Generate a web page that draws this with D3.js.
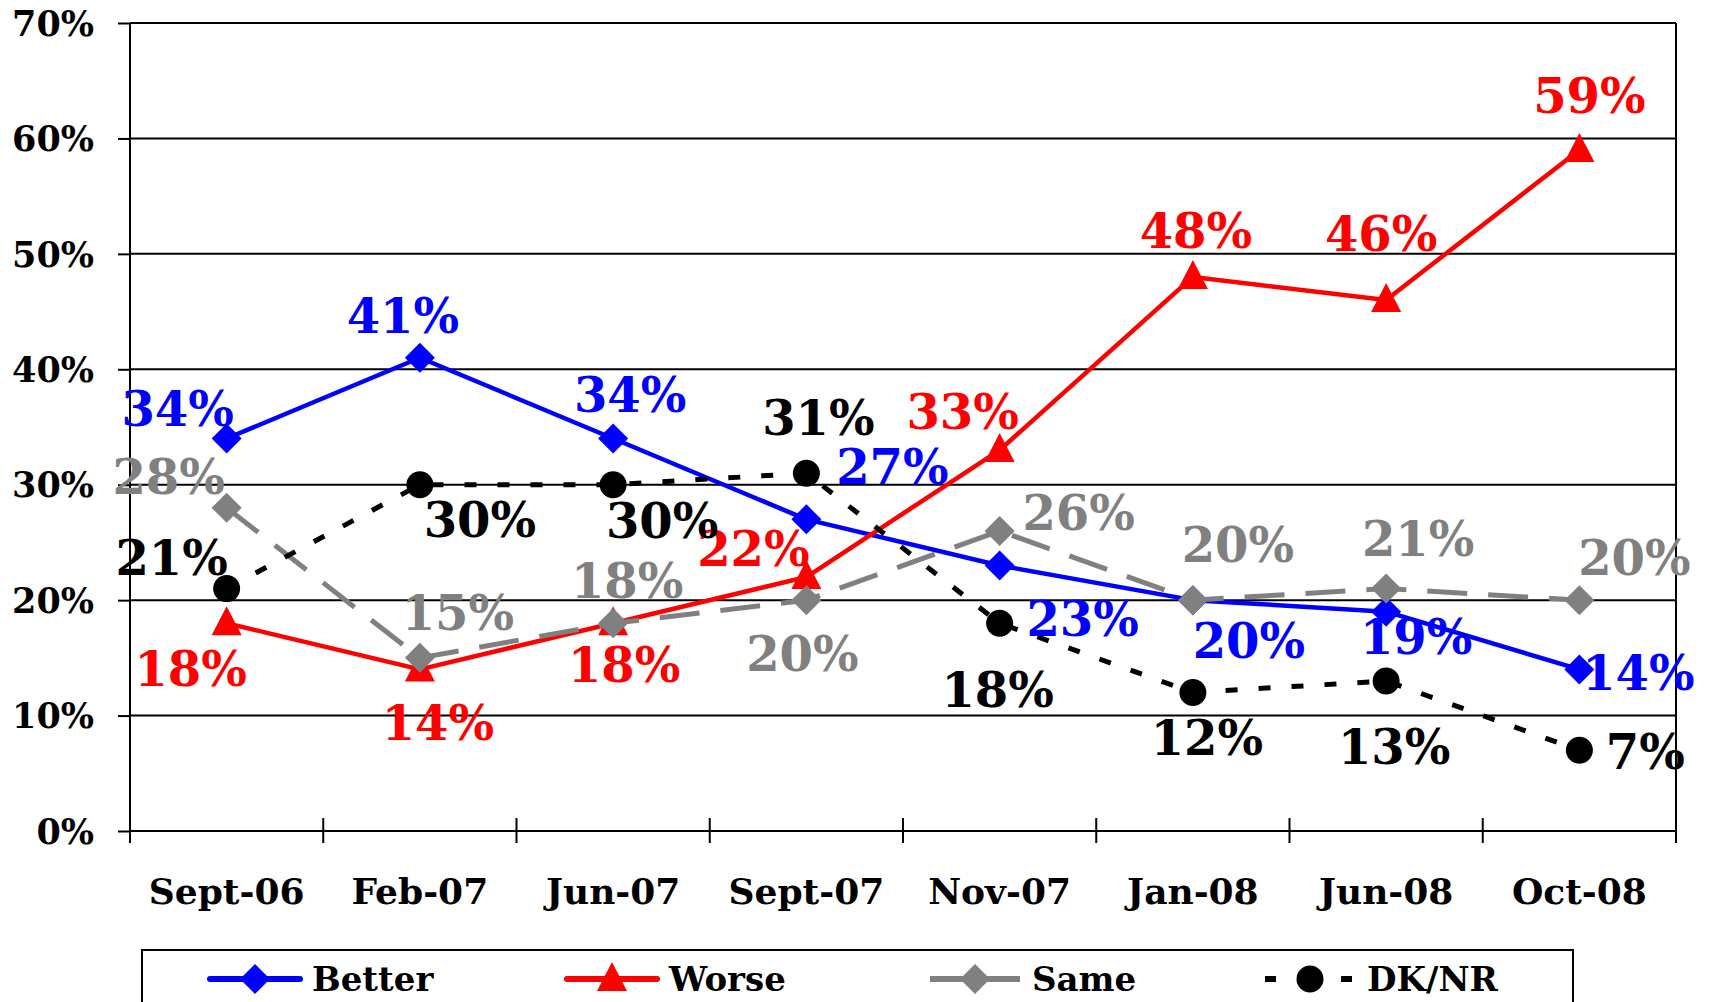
<!DOCTYPE html>
<html><head><meta charset="utf-8">
<script src="https://cdn.jsdelivr.net/npm/d3@7"></script>
<style>html,body{margin:0;padding:0;background:#fff;}svg{display:block;}</style>
</head><body>
<svg id="chart" width="1710" height="1002"></svg>
<script>
// ---- data ----
const categories = ["Sept-06","Feb-07","Jun-07","Sept-07","Nov-07","Jan-08","Jun-08","Oct-08"];
const better = [34, 41, 34, 27, 23, 20, 19, 14];
const worse  = [18, 14, 18, 22, 33, 48, 46, 59];
const same   = [28, 15, 18, 20, 26, 20, 21, 20];
const dknr   = [21, 30, 30, 31, 18, 12, 13, 7];
const yTicks = [0, 10, 20, 30, 40, 50, 60, 70];
const seriesNames = ["Better", "Worse", "Same", "DK/NR"];

// ---- layout (label offsets in px, not data) ----
const offsets = {
  "Better": [[-49,-30],[-17,-42],[17,-44],[86,-52],[83,53],[56,41],[30,25],[59,4]],
  "Worse":  [[-36,46],[18,54],[11,42],[-53,-28],[-37,-38],[3,-46],[-5,-66],[10,-54]],
  "Same":   [[-58,-31],[38,-45],[14,-42],[-4,54],[79,-18],[45,-55],[32,-50],[55,-42]],
  "DK/NR":  [[-55,-31],[60,35],[49,36],[12,-55],[-2,67],[14,46],[8,66],[66,2]]
};

const FONT = "'DejaVu Serif', 'Liberation Serif', serif";
const svg = d3.select("#chart");
const L = 130, R = 1676, T = 23, B = 831;

const x = d3.scaleBand().domain(categories).range([L, R]);
const cx = c => x(c) + x.bandwidth() / 2;
const y = d3.scaleLinear().domain([0, 70]).range([B, T]);

// gridlines
svg.append("g").selectAll("line").data(yTicks.filter(d => d > 0)).join("line")
  .attr("x1", L).attr("x2", R).attr("y1", d => y(d)).attr("y2", d => y(d))
  .attr("stroke", "#000").attr("stroke-width", 2);
// right border
svg.append("line").attr("x1", R).attr("x2", R).attr("y1", T).attr("y2", B)
  .attr("stroke", "#000").attr("stroke-width", 2);

// y axis
const yAxis = svg.append("g").attr("transform", `translate(${L},0)`)
  .call(d3.axisLeft(y).tickValues(yTicks).tickSize(12).tickPadding(24).tickFormat(d => d + "%"));
yAxis.select(".domain").attr("stroke", "#000").attr("stroke-width", 2).attr("d", `M0,${T}V${B + 12}`);
yAxis.selectAll(".tick line").attr("stroke", "#000").attr("stroke-width", 2);
yAxis.selectAll(".tick text").attr("font-family", FONT).attr("font-weight", "bold")
  .attr("font-size", 35).attr("fill", "#000").attr("dy", "0.35em");

// x axis
const xAxis = svg.append("g").attr("transform", `translate(0,${B})`)
  .call(d3.axisBottom(x).tickSize(0).tickPadding(47));
xAxis.select(".domain").attr("stroke", "#000").attr("stroke-width", 2).attr("d", `M${L},0H${R}`);
xAxis.selectAll(".tick text").attr("font-family", FONT).attr("font-weight", "bold")
  .attr("font-size", 36).attr("fill", "#000");
// category boundary tick marks (cross)
const bounds = categories.map(c => x(c)).concat([R]);
svg.append("g").selectAll("line").data(bounds).join("line")
  .attr("x1", d => d).attr("x2", d => d).attr("y1", B - 13).attr("y2", B + 12)
  .attr("stroke", "#000").attr("stroke-width", 2);

// series definitions
const series = [
  {name: "Better", values: better, color: "#0000ff", dash: null, width: 4.5, marker: "diamond"},
  {name: "Worse",  values: worse,  color: "#ff0000", dash: null, width: 4.5, marker: "triangle"},
  {name: "Same",   values: same,   color: "#808080", dash: "40,21", width: 5, marker: "diamond"},
  {name: "DK/NR",  values: dknr,   color: "#000000", dash: "12,21", width: 5, marker: "circle"}
];

const line = d3.line().x((d, i) => cx(categories[i])).y(d => y(d));

function drawMarker(g, type, color, px, py) {
  if (type === "diamond") {
    g.append("path").attr("d", `M${px},${py - 15}L${px + 15},${py}L${px},${py + 15}L${px - 15},${py}Z`).attr("fill", color);
  } else if (type === "triangle") {
    g.append("path").attr("d", `M${px},${py - 17}L${px + 15},${py + 12}L${px - 15},${py + 12}Z`).attr("fill", color);
  } else {
    g.append("circle").attr("cx", px).attr("cy", py).attr("r", 13.5).attr("fill", color);
  }
}

series.forEach(s => {
  const g = svg.append("g");
  g.append("path").datum(s.values).attr("d", line).attr("fill", "none")
    .attr("stroke", s.color).attr("stroke-width", s.width)
    .attr("stroke-dasharray", s.dash).attr("stroke-linejoin", "round");
  s.values.forEach((v, i) => drawMarker(g, s.marker, s.color, cx(categories[i]), y(v)));
});

// data labels
series.forEach(s => {
  svg.append("g").selectAll("text").data(s.values).join("text")
    .attr("x", (d, i) => cx(categories[i]) + offsets[s.name][i][0])
    .attr("y", (d, i) => y(d) + offsets[s.name][i][1])
    .attr("text-anchor", "middle").attr("dominant-baseline", "central")
    .attr("font-family", FONT).attr("font-weight", "bold").attr("font-size", 48)
    .attr("fill", s.color).text(d => d + "%");
});

// legend
const leg = svg.append("g");
leg.append("rect").attr("x", 142).attr("y", 950).attr("width", 1431).attr("height", 70)
  .attr("fill", "#fff").attr("stroke", "#000").attr("stroke-width", 2);
const legX = [210, 567, 930, 1265];
const ly = 979;
series.forEach((s, i) => {
  const g = leg.append("g");
  const x0 = legX[i], x1 = x0 + 90;
  g.append("line").attr("x1", x0).attr("x2", x1).attr("y1", ly).attr("y2", ly)
    .attr("stroke", s.color).attr("stroke-width", 6)
    .attr("stroke-dasharray", s.name === "Same" ? "36,18" : (s.name === "DK/NR" ? "11,27" : null))
    .attr("stroke-linecap", s.dash ? "butt" : "round");
  drawMarker(g, s.marker, s.color, (x0 + x1) / 2, ly);
  g.append("text").attr("x", x1 + 12).attr("y", ly).attr("dominant-baseline", "central")
    .attr("font-family", FONT).attr("font-weight", "bold").attr("font-size", 34)
    .attr("fill", "#000").text(s.name);
});
</script>
</body></html>
